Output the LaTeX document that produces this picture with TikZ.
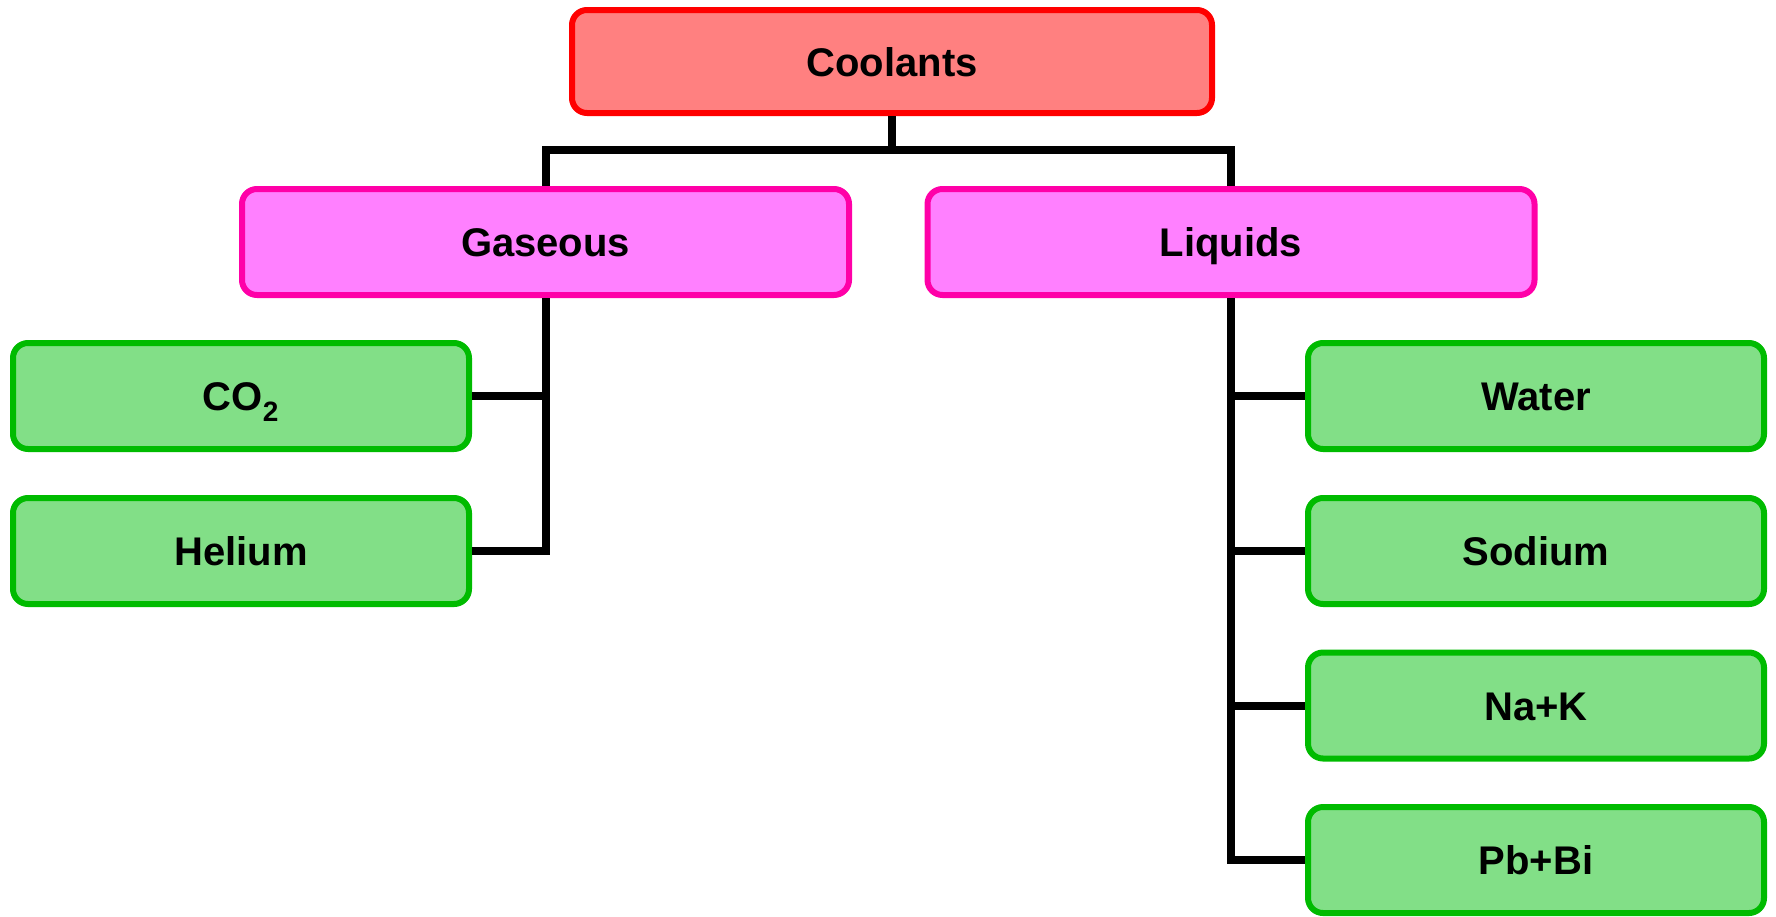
\documentclass[tikz,border=0pt]{standalone}
\usepackage{fontspec}
\setmainfont{Liberation Sans}
\definecolor{rootfill}{HTML}{FF8080}
\definecolor{rootdraw}{HTML}{FF0000}
\definecolor{midfill}{HTML}{FF80FF}
\definecolor{middraw}{HTML}{FF00A8}
\definecolor{leaffill}{HTML}{82DF87}
\definecolor{leafdraw}{HTML}{00BB00}
\begin{document}
\begin{tikzpicture}[x=1pt,y=-1pt,
  box/.style={rectangle, rounded corners=15pt, line width=6pt, inner sep=0pt,
    text height=29pt, text depth=0pt,
    font=\fontsize{40}{48}\selectfont\bfseries, text=black},
  rootbox/.style={box, fill=rootfill, draw=rootdraw, minimum width=640pt, minimum height=103pt},
  midbox/.style={box, fill=midfill, draw=middraw, minimum width=607pt, minimum height=106pt},
  leafbox/.style={box, fill=leaffill, draw=leafdraw, minimum width=456pt, minimum height=106pt},
  link/.style={draw=black, line width=8pt}]
\useasboundingbox (0,0) rectangle (1776,916);
\node[rootbox] (coolants) at (892,61.5) {Coolants};
\node[midbox] (gaseous) at (545.5,242) {Gaseous};
\node[midbox] (liquids) at (1231,242) {Liquids};
\node[leafbox] (co2) at (241,396) {CO\textsubscript{2}};
\node[leafbox] (helium) at (241,551) {Helium};
\node[leafbox] (water) at (1536,396) {Water};
\node[leafbox] (sodium) at (1536,551) {Sodium};
\node[leafbox] (nak) at (1536,705.5) {Na+K};
\node[leafbox] (pbbi) at (1536,860) {Pb+Bi};
\coordinate (bar) at (892,149.5);
\draw[link] (coolants.south) -- (bar);
\draw[link] (gaseous.north) |- (bar) -| (liquids.north);
\draw[link] (gaseous.south) |- (co2.east);
\draw[link] (gaseous.south) |- (helium.east);
\draw[link] (liquids.south) |- (water.west);
\draw[link] (liquids.south) |- (sodium.west);
\draw[link] (liquids.south) |- (nak.west);
\draw[link] (liquids.south) |- (pbbi.west);
\end{tikzpicture}
\end{document}
